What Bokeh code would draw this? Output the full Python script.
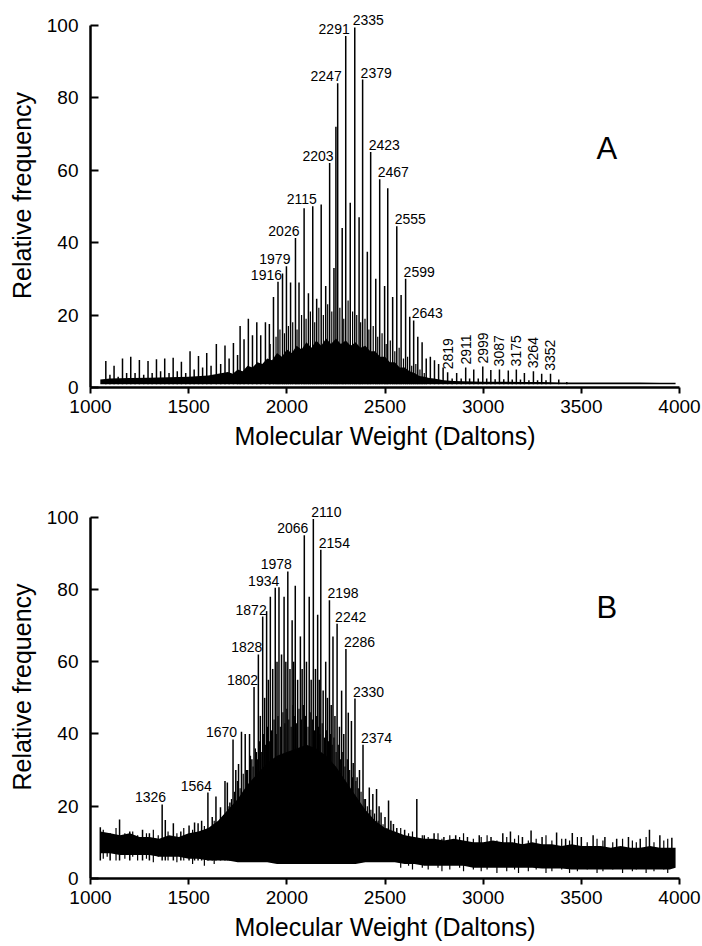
from bokeh.plotting import figure
from bokeh.models import Range1d, ColumnDataSource, FixedTicker, LabelSet, Label
from bokeh.layouts import column
from bokeh.core.properties import value
from bokeh.embed import file_html
from bokeh.resources import INLINE
import numpy as np

# ---------------- Panel A data ----------------
A_peak_mz = [1078, 1099, 1120, 1141, 1163, 1184, 1205, 1227, 1249, 1271, 1293, 1314, 1336, 1357,
             1378, 1400, 1421, 1442, 1463, 1485, 1507, 1528, 1550, 1571, 1592, 1614, 1641, 1663,
             1685, 1706, 1728, 1749, 1762, 1782, 1804, 1825, 1847, 1867, 1891, 1911, 1932, 1955,
             1978, 1998, 2019, 2044, 2062, 2088, 2110, 2132, 2152, 2175, 2198, 2218, 2240, 2250,
             2259, 2282, 2300, 2323, 2346, 2368, 2386, 2410, 2427, 2453, 2473, 2498, 2514, 2539,
             2560, 2582, 2605, 2626, 2646, 2667, 2689, 2710, 2731, 2752, 2773, 2796, 2819, 2842,
             2865, 2888, 2911, 2931, 2952, 2975, 2998, 3018, 3039, 3061, 3083, 3105, 3128, 3148,
             3169, 3190, 3210, 3233, 3256, 3277, 3298, 3320, 3343, 3385, 3426]
A_peak_h = [7.3, 3.5, 6, 3, 8, 4, 8.5, 4, 7.6, 3.5, 7.3, 4, 7.8, 4.5,
            8, 4, 8.2, 4.5, 7.1, 4, 10, 5, 8.7, 5.5, 9.5, 6, 12, 6.5,
            11.6, 8, 12.3, 9, 17, 13.3, 19, 14.4, 18, 14.4, 18, 17.5, 25, 29.2,
            31.5, 33.5, 29, 41.3, 29, 49.5, 26, 50, 24.5, 50.5, 28, 62, 33, 72,
            84, 44, 97, 51, 99.4, 47, 85, 37.5, 65, 30, 57.5, 28, 55, 25,
            44.5, 25.5, 30, 19.5, 18.5, 14, 12.5, 8, 8.5, 7.5, 6.5, 5.5, 4.2, 2.5,
            4, 2.5, 5.5, 2.5, 5, 2.5, 5.8, 2.5, 4.8, 2.3, 5, 2.3, 4.7, 2.2,
            5, 2.2, 4, 2, 4.5, 2, 3.8, 2, 3.8, 2.2, 1.5]

# smaller lines inside the dense central mass
A_fine_mz = [1915, 1945, 1965, 1988, 2008, 2030, 2052, 2075, 2098, 2120,
             2142, 2163, 2186, 2208, 2229, 2270, 2290, 2312, 2335, 2356,
             2376, 2398, 2418, 2440, 2463, 2485, 2506, 2527, 2550, 2572,
             2594, 2615, 2636, 2657, 2678, 2700]
A_fine_h = [12, 14, 16, 15, 17, 18, 16, 20, 19, 21,
            18, 22, 20, 23, 21, 22, 19, 24, 21, 20,
            18, 19, 16, 17, 14, 15, 12, 13, 10, 11,
            8, 8.5, 6, 6.5, 5, 4]

# top edge of the dense black mass
A_grass_mz = [1050, 1100, 1200, 1300, 1400, 1500, 1600, 1650, 1700, 1725, 1750, 1775, 1800, 1825,
              1850, 1875, 1900, 1925, 1950, 1975, 2000, 2025, 2050, 2075, 2100, 2125, 2150, 2175,
              2200, 2225, 2250, 2275, 2300, 2325, 2350, 2375, 2400, 2425, 2450, 2475, 2500, 2525,
              2550, 2575, 2600, 2625, 2650, 2675, 2700, 2725, 2750, 2800, 2850, 2900, 3000, 3100,
              3200, 3300, 3400, 3500, 3600, 3700, 3800, 3900, 3980]
A_grass_h = [2.2, 2.5, 2.6, 2.7, 2.8, 3.0, 3.3, 3.8, 4.3, 3.8, 5.0, 4.5, 6.0, 5.5,
             7.0, 6.5, 8.0, 7.5, 9.5, 8.5, 10.5, 9.5, 11.5, 10.5, 12.5, 11.0, 13.0, 11.5,
             13.5, 12.0, 13.5, 12.0, 13.0, 11.5, 12.5, 11.0, 11.5, 10.0, 10.0, 8.5, 8.5, 7.0,
             7.0, 5.5, 5.5, 4.5, 4.0, 3.2, 3.0, 2.6, 2.5, 2.0, 1.8, 1.7, 1.6, 1.6,
             1.5, 1.5, 1.4, 1.4, 1.4, 1.4, 1.4, 1.3, 1.3]
A_floor = 0.9

A_lab_left_text = ["1916", "1979", "2026", "2115", "2203", "2247", "2291"]
A_lab_left_mz = [1955, 1998, 2044, 2132, 2218, 2259, 2300]
A_lab_right_text = ["2335", "2379", "2423", "2467", "2555", "2599", "2643"]
A_lab_right_mz = [2346, 2386, 2427, 2473, 2560, 2605, 2646]
A_lab_up_text = ["2819", "2911", "2999", "3087", "3175", "3264", "3352"]
A_lab_up_mz = [2819, 2911, 2998, 3083, 3169, 3256, 3343]

# ---------------- Panel B data ----------------
B_peak_mz = [1050, 1100, 1148, 1200, 1265, 1300, 1365, 1381, 1422, 1460, 1502, 1530, 1548, 1566,
             1598, 1620, 1639, 1662, 1685, 1697, 1710, 1726, 1740, 1754, 1769, 1788, 1800, 1810,
             1822, 1833, 1845, 1855, 1865, 1877, 1887, 1897, 1906, 1916, 1928, 1941, 1950, 1960,
             1973, 1986, 1995, 2005, 2016, 2027, 2035, 2043, 2055, 2069, 2078, 2089, 2100, 2114,
             2124, 2135, 2146, 2157, 2165, 2173, 2185, 2198, 2207, 2217, 2226, 2235, 2245, 2256,
             2268, 2279, 2290, 2301, 2313, 2329, 2338, 2347, 2358, 2370, 2388, 2400, 2420, 2438,
             2457, 2470, 2480, 2500, 2518, 2530, 2543, 2560, 2600, 2662, 2700, 2750, 2800, 2860,
             2920, 2980, 3040, 3100, 3139, 3200, 3244, 3300, 3374, 3420, 3454, 3500, 3560, 3620,
             3680, 3740, 3800, 3847, 3900, 3961]
B_peak_h = [14.2, 12.5, 16.3, 13, 13.5, 12.5, 20.5, 16.2, 15.3, 13, 14.7, 15.5, 15.3, 16,
            23.8, 17, 22.7, 19.7, 27, 26.6, 21, 38.5, 30, 31.7, 40.6, 40, 30, 40,
            33, 53, 35, 62, 45, 72.5, 50, 74, 55, 78, 58, 80.5, 60, 80.6,
            62, 78, 60, 85, 58, 71.5, 60, 81, 55, 67, 58, 95, 60, 78,
            55, 99.5, 58, 73, 55, 91, 52, 60, 50, 77, 48, 67, 45, 70.5,
            42, 52, 40, 63.5, 45.9, 43.6, 32, 49.8, 28, 30, 37, 22, 25.2, 23.4,
            24.8, 20, 18.3, 17, 21.6, 16, 15.1, 14, 13.5, 22, 12, 12.5, 11.5, 12,
            11.5, 12, 11.5, 12.5, 13, 11.5, 13.3, 11.5, 12.7, 11, 12.6, 11.5, 12, 11.5,
            11, 11.5, 11, 13.5, 12, 11.3]

# denser, shorter lines filling the central cluster
B_mid_mz = [1705, 1718, 1733, 1748, 1762, 1778, 1795, 1815, 1828, 1840,
            1850, 1860, 1870, 1882, 1892, 1902, 1911, 1922, 1935, 1946,
            1955, 1967, 1980, 1990, 2000, 2010, 2022, 2031, 2040, 2050,
            2062, 2074, 2084, 2095, 2108, 2119, 2130, 2141, 2152, 2161,
            2169, 2180, 2192, 2203, 2212, 2222, 2231, 2240, 2251, 2262,
            2274, 2285, 2296, 2308, 2320, 2334, 2352, 2364, 2378, 2394,
            2410, 2428, 2447, 2465, 2490, 2510]
B_mid_h = [20, 22, 24, 27, 25, 29, 30, 34, 31, 36,
           33, 38, 35, 40, 37, 42, 38, 41, 44, 40,
           45, 42, 46, 43, 47, 44, 42, 48, 45, 43,
           47, 44, 48, 45, 42, 46, 44, 41, 45, 42,
           40, 43, 39, 41, 38, 40, 37, 39, 35, 37,
           33, 35, 31, 33, 30, 28, 27, 25, 24, 22,
           20, 19, 18, 16, 15, 14]

B_noise_mz = [1050, 1100, 1150, 1200, 1250, 1300, 1350, 1400, 1450, 1500, 1550, 1600, 1650, 1700,
              1750, 1800, 1850, 1900, 1950, 2000, 2050, 2100, 2150, 2200, 2250, 2300, 2350, 2400,
              2450, 2500, 2550, 2600, 2650, 2700, 2750, 2800, 2850, 2900, 2950, 3000, 3050, 3100,
              3150, 3200, 3250, 3300, 3350, 3400, 3450, 3500, 3550, 3600, 3650, 3700, 3750, 3800,
              3850, 3900, 3950, 3980]
B_noise_hi = [13, 12.5, 12, 12.5, 11.5, 11.5, 11, 12, 11.5, 12.5, 13, 14, 16, 19,
              22, 26, 29, 32, 34, 35, 36, 37, 36, 34, 31, 27, 23, 19,
              16, 14, 13, 12, 11.5, 11, 11, 10.5, 11, 10.5, 10, 10, 10.5, 10,
              10, 9.5, 10, 9.5, 9.5, 9, 9.5, 9, 9, 9, 8.5, 9, 8.5, 8.5,
              9, 8.5, 8.5, 8.5]
B_noise_lo = [7, 7, 6.5, 6.5, 6.5, 6.5, 6, 6, 6, 5.5, 5.5, 5, 5, 5,
              4.5, 4.5, 4.5, 4.5, 4, 4, 4, 4, 4, 4, 4, 4, 4, 4.5,
              4.5, 4.5, 4.5, 4, 4, 3.5, 3.5, 3.5, 3.5, 3.5, 3, 3, 3, 3,
              3, 3, 3, 2.8, 2.8, 2.8, 2.5, 2.5, 2.5, 2.5, 2.5, 2.5, 2.5, 2.5,
              2.5, 2.5, 2.5, 3]

# short noise strokes that roughen the edges of the noise band
B_fine_mz = [1065, 1085, 1130, 1175, 1215, 1240, 1285, 1320, 1345, 1395,
             1440, 1475, 1520, 1580, 1630, 2580, 2620, 2640, 2690, 2720,
             2770, 2790, 2830, 2880, 2900, 2950, 2990, 3020, 3070, 3120,
             3160, 3180, 3230, 3270, 3320, 3350, 3400, 3440, 3480, 3530,
             3580, 3610, 3660, 3710, 3760, 3780, 3830, 3870, 3920, 3940]
B_fine_lo = [5.5, 6, 5, 5.5, 6, 5, 5.5, 4.5, 6, 5,
             4.5, 5, 4, 3.5, 4, 3, 3.5, 2.5, 3, 2.5,
             3, 2, 2.5, 3, 2, 2.5, 2, 2.5, 1.5, 2,
             2.5, 1.5, 2, 2.5, 1.5, 2, 2.5, 1.5, 2, 2.5,
             1.5, 2, 2.5, 1.5, 2, 2.5, 1.5, 2, 2.5, 1.5]
B_fine_hi = [13.5, 12, 14, 12.5, 13, 12, 12.5, 13.5, 12, 13,
             12.5, 14, 13.5, 14.5, 16, 14, 12.5, 13, 12, 11.5,
             12.5, 11, 12, 11.5, 12.5, 11, 11.5, 12, 10.5, 11.5,
             11, 12, 10.5, 11, 12, 10.5, 11, 10.5, 11.5, 10,
             11, 10.5, 10, 11, 10.5, 10, 11.5, 10, 10.5, 11]

B_lab_left_text = ["1326", "1564", "1670", "1802", "1828", "1872", "1934", "1978", "2066"]
B_lab_left_mz = [1365, 1598, 1726, 1833, 1855, 1877, 1941, 2005, 2089]
B_lab_right_text = ["2110", "2154", "2198", "2242", "2286", "2330", "2374"]
B_lab_right_mz = [2135, 2173, 2217, 2256, 2301, 2347, 2388]

y_ticks = [0, 20, 40, 60, 80, 100]
x_ticks = [1000, 1500, 2000, 2500, 3000, 3500, 4000]

FONT = "Liberation Sans"
LAB_SIZE = "14px"
Y_TOP = 106  # headroom above 100 so that the top labels are not cut


def base_fig(border_top, frame_h, border_bottom):
    p = figure(width=702, frame_width=589, frame_height=frame_h,
               x_range=Range1d(1000, 4000), y_range=Range1d(0, Y_TOP),
               output_backend="svg", toolbar_location=None,
               min_border_left=90, min_border_right=23,
               min_border_top=border_top, min_border_bottom=border_bottom)
    p.outline_line_color = None
    p.grid.visible = False
    p.background_fill_color = "white"
    p.border_fill_color = "white"
    for ax in (p.xaxis[0], p.yaxis[0]):
        ax.axis_line_width = 2.5
        ax.axis_line_color = "black"
        ax.major_tick_line_width = 2
        ax.major_tick_line_color = "black"
        ax.minor_tick_line_color = None
        ax.major_label_text_font = FONT
        ax.major_label_text_font_size = "19px"
        ax.major_label_text_color = "black"
        ax.axis_label_text_font = FONT
        ax.axis_label_text_font_size = "25px"
        ax.axis_label_text_font_style = "normal"
        ax.axis_label_text_color = "black"
    p.yaxis.bounds = (0, 100)
    p.xaxis.ticker = FixedTicker(ticks=x_ticks)
    p.yaxis.ticker = FixedTicker(ticks=y_ticks)
    p.xaxis.major_tick_in = 0
    p.xaxis.major_tick_out = 6
    p.yaxis.major_tick_in = 8
    p.yaxis.major_tick_out = 0
    p.xaxis.major_label_standoff = 6
    p.yaxis.major_label_standoff = 12
    p.xaxis.axis_label = "Molecular Weight (Daltons)"
    p.yaxis.axis_label = "Relative frequency"
    p.xaxis.axis_label_standoff = 6
    p.yaxis.axis_label_standoff = 8
    return p


def height_of(mz_list, h_list, mz):
    return h_list[mz_list.index(mz)]


def add_labels(p, texts, mzs, peak_mz, peak_h, align, baseline, angle, xo, yo):
    src = ColumnDataSource(dict(x=mzs, y=[height_of(peak_mz, peak_h, m) for m in mzs], t=texts))
    p.add_layout(LabelSet(x="x", y="y", text="t", source=src, text_align=align,
                          text_baseline=baseline, angle=angle, x_offset=xo, y_offset=yo,
                          text_font=value(FONT), text_font_size=value(LAB_SIZE),
                          text_color="black"))


# ---------------- Panel A ----------------
pA = base_fig(3, 384, 86)
pA.varea(x=A_grass_mz, y1=[A_floor] * len(A_grass_mz), y2=A_grass_h, fill_color="black")
pA.segment(x0=A_fine_mz, y0=[A_floor] * len(A_fine_mz), x1=A_fine_mz, y1=A_fine_h,
           line_color="black", line_width=1.2)
pA.segment(x0=A_peak_mz, y0=[A_floor] * len(A_peak_mz), x1=A_peak_mz, y1=A_peak_h,
           line_color="black", line_width=1.5)

add_labels(pA, A_lab_left_text, A_lab_left_mz, A_peak_mz, A_peak_h, "right", "bottom", 0, 4, 2)
add_labels(pA, A_lab_right_text, A_lab_right_mz, A_peak_mz, A_peak_h, "left", "bottom", 0, -2, 2)
add_labels(pA, A_lab_up_text, A_lab_up_mz, A_peak_mz, A_peak_h, "left", "middle", np.pi / 2, 0, 3)
pA.add_layout(Label(x=3630, y=66, text="A", text_align="center", text_baseline="middle",
                    text_font=FONT, text_font_size="31px", text_color="black"))

# ---------------- Panel B ----------------
pB = base_fig(22, 383, 68)
pB.varea(x=B_noise_mz, y1=B_noise_lo, y2=B_noise_hi, fill_color="black")
pB.segment(x0=B_fine_mz, y0=B_fine_lo, x1=B_fine_mz, y1=B_fine_hi,
           line_color="black", line_width=1.2)
pB.segment(x0=B_mid_mz, y0=[5] * len(B_mid_mz), x1=B_mid_mz, y1=B_mid_h,
           line_color="black", line_width=1.2)
pB.segment(x0=B_peak_mz, y0=[5] * len(B_peak_mz), x1=B_peak_mz, y1=B_peak_h,
           line_color="black", line_width=1.5)
add_labels(pB, B_lab_left_text, B_lab_left_mz, B_peak_mz, B_peak_h, "right", "bottom", 0, 4, 2)
add_labels(pB, B_lab_right_text, B_lab_right_mz, B_peak_mz, B_peak_h, "left", "bottom", 0, -2, 2)
pB.add_layout(Label(x=3630, y=75, text="B", text_align="center", text_baseline="middle",
                    text_font=FONT, text_font_size="31px", text_color="black"))

layout = column(pA, pB, spacing=0)
html = file_html(layout, INLINE)
html = html.replace("<head>", "<head><style>html,body{margin:0;padding:0;}</style>", 1)
open("out.html", "w").write(html)
